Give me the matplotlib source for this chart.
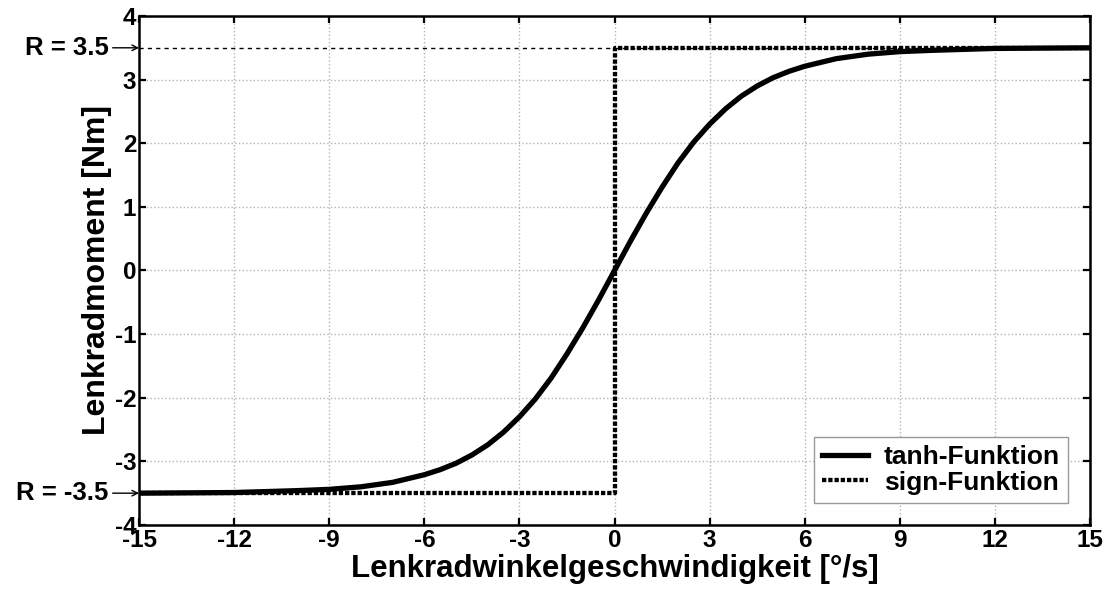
import matplotlib
matplotlib.use("Agg")
import matplotlib.pyplot as plt

# Reibmoment am Lenkrad: tanh-Näherung gegen ideale sign-Funktion
R = 3.5

x_half = [0, 0.5, 1, 1.5, 2, 2.5, 3, 3.5, 4, 4.5, 5, 5.5, 6, 7, 8, 9, 10, 12, 15]
y_half = [0, 0.46, 0.90, 1.31, 1.69, 2.02, 2.30, 2.54, 2.74, 2.90, 3.03, 3.13,
          3.21, 3.33, 3.40, 3.44, 3.46, 3.49, 3.50]

tanh_x = [-v for v in x_half[:0:-1]] + x_half
tanh_y = [-v for v in y_half[:0:-1]] + y_half

sign_x = [-15, 0, 0, 15]
sign_y = [-R, -R, R, R]

xticks = [-15, -12, -9, -6, -3, 0, 3, 6, 9, 12, 15]
yticks = [-4, -3, -2, -1, 0, 1, 2, 3, 4]

plt.rcParams['font.family'] = ['Liberation Sans', 'DejaVu Sans']
plt.rcParams['font.weight'] = 'bold'
plt.rcParams['axes.unicode_minus'] = False

fig = plt.figure(figsize=(11.08, 5.90), dpi=100)
ax = fig.add_axes([0.1255, 0.1102, 0.8583, 0.8627])

ax.plot([-15, 15], [R, R], color='black', lw=1.0, ls=(0, (3, 3)), zorder=2)
ax.plot(tanh_x, tanh_y, color='black', lw=3.8, label='tanh-Funktion', zorder=4)
ax.plot(sign_x, sign_y, color='black', lw=3.1, ls=(0, (1, 0.45)),
        label='sign-Funktion', zorder=3)

ax.set_xlim(-15, 15)
ax.set_ylim(-4, 4)
ax.set_xticks(xticks)
ax.set_yticks(yticks)
ax.grid(True, color='#b4b4b4', ls=':', lw=1.0)
ax.tick_params(direction='in', length=5, width=1.6, labelsize=17.5,
               top=True, right=True)
ax.tick_params(axis='x', pad=3)
ax.tick_params(axis='y', pad=2)
for s in ax.spines.values():
    s.set_linewidth(1.8)

ax.set_xlabel('Lenkradwinkelgeschwindigkeit [°/s]', fontsize=22.5,
              fontweight='bold', labelpad=1)
ax.set_ylabel('Lenkradmoment [Nm]', fontsize=23, fontweight='bold', labelpad=2)

# R-Markierungen links neben der Achse
for val in (R, -R):
    ax.annotate('', xy=(0, val), xycoords=('axes fraction', 'data'),
                xytext=(-19, 0), textcoords='offset points',
                arrowprops=dict(arrowstyle='->', lw=1.0, color='black',
                                shrinkA=0, shrinkB=0))
    ax.annotate(f'R = {val}', xy=(0, val), xycoords=('axes fraction', 'data'),
                xytext=(-22, 0), textcoords='offset points',
                ha='right', va='center', fontsize=18.5, fontweight='bold')

leg = ax.legend(loc='lower right', fontsize=19, frameon=True, fancybox=False,
                edgecolor='#999999', framealpha=1, borderaxespad=0.85,
                handlelength=1.75, handletextpad=0.6, borderpad=0.3,
                labelspacing=0.05)
leg.get_frame().set_linewidth(1.0)

fig.savefig('out.png', dpi=100)
